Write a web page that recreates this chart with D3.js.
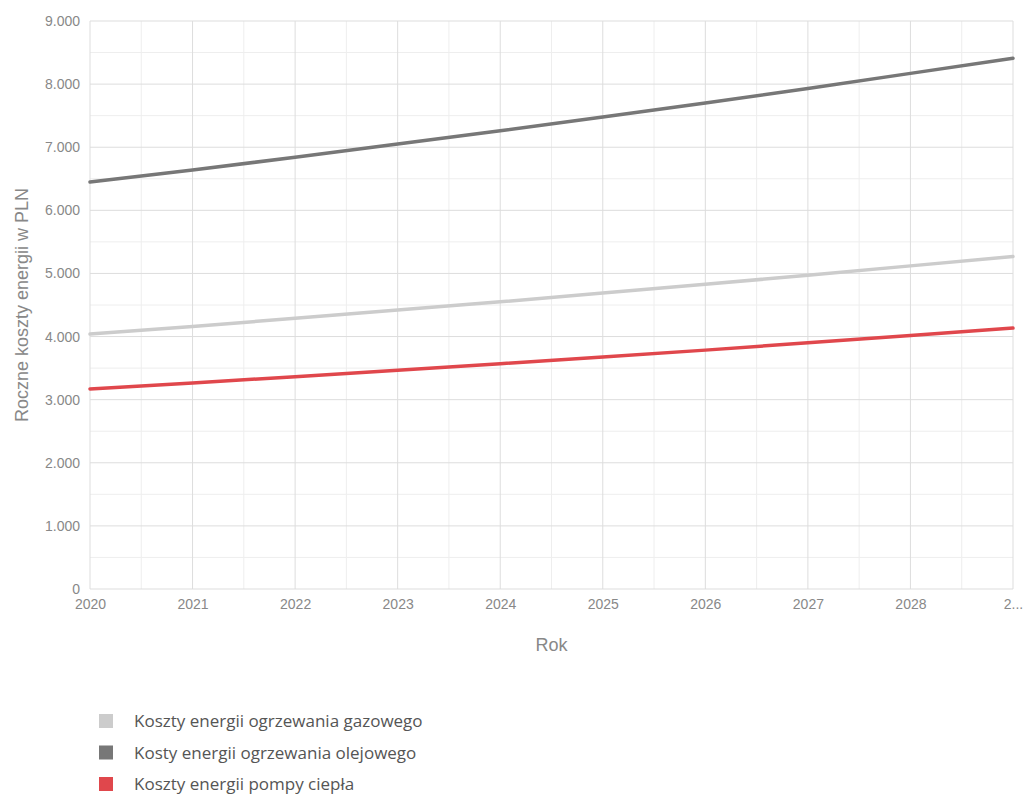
<!DOCTYPE html>
<html>
<head>
<meta charset="utf-8">
<script src="https://cdn.jsdelivr.net/npm/d3@7"></script>
<style>
  html, body { margin: 0; padding: 0; background: #fff; }
  svg { display: block; }
</style>
</head>
<body>
<svg id="chart" width="1026" height="796"></svg>
<script>
// Years on the x axis
const years = [2020, 2021, 2022, 2023, 2024, 2025, 2026, 2027, 2028, 2029];
const xTickLabels = ["2020", "2021", "2022", "2023", "2024", "2025", "2026", "2027", "2028", "2..."];

// Annual energy costs in PLN
const gasCosts = [4040, 4160, 4290, 4420, 4550, 4690, 4830, 4970, 5120, 5270];
const oilCosts = [6450, 6640, 6840, 7050, 7260, 7480, 7700, 7930, 8170, 8410];
const heatPumpCosts = [3170, 3265, 3365, 3465, 3570, 3675, 3785, 3900, 4015, 4135];

const yTicks = [0, 1000, 2000, 3000, 4000, 5000, 6000, 7000, 8000, 9000];

const seriesNames = [
  "Koszty energii ogrzewania gazowego",
  "Kosty energii ogrzewania olejowego",
  "Koszty energii pompy ciepła"
];
const seriesColors = ["#cccccc", "#777777", "#e0474c"];
const seriesValues = [gasCosts, oilCosts, heatPumpCosts];

const svg = d3.select("#chart");
const margin = { left: 90, right: 13, top: 21, bottom: 207 };
const W = 1026, H = 796;
const plotW = W - margin.left - margin.right;
const plotH = H - margin.top - margin.bottom;

const axisFont = "'Liberation Sans', Arial, sans-serif";

const x = d3.scaleLinear().domain([years[0], years[years.length - 1]]).range([0, plotW]);
const y = d3.scaleLinear().domain([0, 9000]).range([plotH, 0]);

const g = svg.append("g").attr("transform", `translate(${margin.left},${margin.top})`);

// Minor grid (half steps)
const minorX = d3.range(years[0] + 0.5, years[years.length - 1], 1);
const minorY = d3.range(500, 9000, 1000);
g.selectAll(".minor-x").data(minorX).join("line")
  .attr("x1", d => x(d)).attr("x2", d => x(d))
  .attr("y1", 0).attr("y2", plotH)
  .attr("stroke", "#eeeeee").attr("stroke-width", 1);
g.selectAll(".minor-y").data(minorY).join("line")
  .attr("x1", 0).attr("x2", plotW)
  .attr("y1", d => y(d)).attr("y2", d => y(d))
  .attr("stroke", "#eeeeee").attr("stroke-width", 1);

// Major grid
g.selectAll(".major-x").data(years).join("line")
  .attr("x1", d => x(d)).attr("x2", d => x(d))
  .attr("y1", 0).attr("y2", plotH)
  .attr("stroke", "#dddddd").attr("stroke-width", 1);
g.selectAll(".major-y").data(yTicks).join("line")
  .attr("x1", 0).attr("x2", plotW)
  .attr("y1", d => y(d)).attr("y2", d => y(d))
  .attr("stroke", "#dddddd").attr("stroke-width", 1);

// Axes (labels only)
const fmt = d => d === 0 ? "0" : d3.format(",")(d).replace(/,/g, ".");
const yAxis = d3.axisLeft(y).tickValues(yTicks).tickFormat(fmt).tickSize(0).tickPadding(10);
const yAxisG = g.append("g").call(yAxis);
yAxisG.select(".domain").remove();
yAxisG.selectAll("text")
  .attr("fill", "#888").style("font-family", axisFont)
  .style("font-size", "14px");

const xAxis = d3.axisBottom(x).tickValues(years).tickFormat((d, i) => xTickLabels[i]).tickSize(0).tickPadding(10);
const xAxisG = g.append("g").attr("transform", `translate(0,${plotH})`).call(xAxis);
xAxisG.select(".domain").remove();
xAxisG.selectAll("text")
  .attr("fill", "#888").style("font-family", axisFont)
  .style("font-size", "14px");

// Axis titles
svg.append("text")
  .attr("transform", `translate(28,${margin.top + plotH / 2}) rotate(-90)`)
  .attr("text-anchor", "middle")
  .attr("fill", "#888")
  .style("font-family", axisFont)
  .style("font-size", "18px")
  .text("Roczne koszty energii w PLN");

svg.append("text")
  .attr("x", margin.left + plotW / 2)
  .attr("y", 651)
  .attr("text-anchor", "middle")
  .attr("fill", "#888")
  .style("font-family", axisFont)
  .style("font-size", "18px")
  .text("Rok");

// Lines
const line = d3.line().x((d, i) => x(years[i])).y(d => y(d));
seriesValues.forEach((vals, k) => {
  g.append("path")
    .datum(vals)
    .attr("d", line)
    .attr("fill", "none")
    .attr("stroke", seriesColors[k])
    .attr("stroke-width", 3.5)
    .attr("stroke-linecap", "round");
});

// Legend
const legend = svg.append("g").attr("transform", "translate(99,714)");
seriesNames.forEach((name, k) => {
  const row = legend.append("g").attr("transform", `translate(0,${k * 31.5})`);
  row.append("rect").attr("width", 14).attr("height", 14).attr("fill", seriesColors[k]);
  row.append("text")
    .attr("x", 35).attr("y", 13)
    .attr("fill", "#555")
    .style("font-family", "'Open Sans', 'Noto Sans', sans-serif")
    .style("font-size", "17px")
    .text(name);
});
</script>
</body>
</html>
